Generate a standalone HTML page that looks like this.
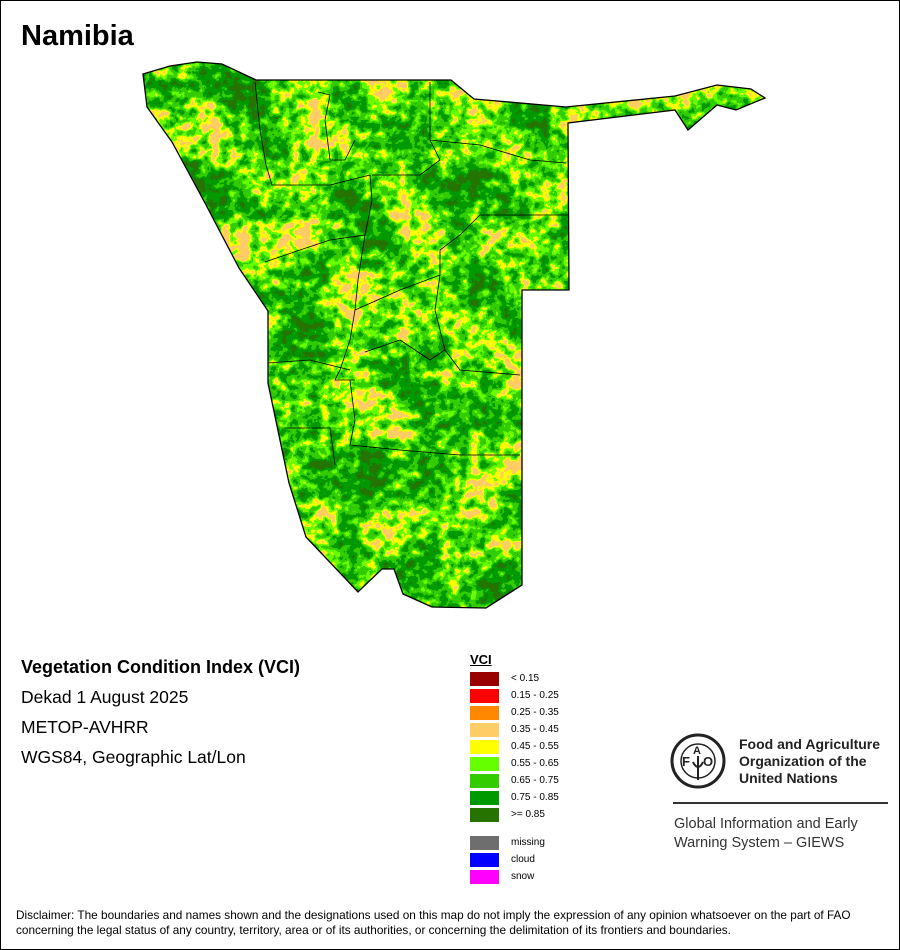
<!DOCTYPE html>
<html><head><meta charset="utf-8"><style>
html,body{margin:0;padding:0;background:#fff;}
#wrap{position:relative;width:898px;height:948px;border:1px solid #000;overflow:hidden;font-family:"Liberation Sans",sans-serif;color:#000;}
.t{position:absolute;white-space:nowrap;}
.sw{position:absolute;left:469px;width:29px;height:14px;}
.lb{position:absolute;left:510px;font-size:10px;}
</style></head><body><div id="wrap">
<div class="t" style="left:20px;top:19px;font-size:29px;font-weight:bold;">Namibia</div>
<svg width="900" height="950" style="position:absolute;left:-1px;top:-1px;">
<defs>
<filter id="f" x="0" y="0" width="100%" height="100%" color-interpolation-filters="sRGB">
<feTurbulence type="fractalNoise" baseFrequency="0.018" numOctaves="2" seed="5"/>
<feColorMatrix type="matrix" values="1 0 0 0 0  1 0 0 0 0  1 0 0 0 0  0 0 0 0 1" result="lo"/>
<feTurbulence type="fractalNoise" baseFrequency="0.1" numOctaves="3" seed="11"/>
<feColorMatrix type="matrix" values="1 0 0 0 0  1 0 0 0 0  1 0 0 0 0  0 0 0 0 1" result="hi"/>
<feComposite in="lo" in2="hi" operator="arithmetic" k1="0" k2="0.55" k3="0.5" k4="-0.03" result="m"/>
<feColorMatrix in="m" type="matrix" values="2.0 0 0 0 -0.42  2.0 0 0 0 -0.42  2.0 0 0 0 -0.42  0 0 0 0 1"/>
<feComponentTransfer>
<feFuncR type="discrete" tableValues="0.149 0.149 0.149 0.149 0.149 0.149 0.149 0 0 0 0 0 0.2 0.2 0.2 0.2 0.4 0.4 0.4 1 1 1 1 1 1 1"/>
<feFuncG type="discrete" tableValues="0.451 0.451 0.451 0.451 0.451 0.451 0.451 0.6 0.6 0.6 0.6 0.6 0.8 0.8 0.8 0.8 1 1 1 1 1 1 0.8 0.8 0.8 0.8"/>
<feFuncB type="discrete" tableValues="0 0 0 0 0 0 0 0 0 0 0 0 0 0 0 0 0 0 0 0 0 0 0.4 0.4 0.4 0.4"/>
<feFuncA type="linear" slope="0" intercept="1"/>
</feComponentTransfer>
</filter>
<clipPath id="c"><path id="np" d="M143,74 L170,66 197,62 222,64 256,80 451,80 474,99 566,107 675,96 717,85 751,89 765,98 736,110 717,105 688,130 675,110 568,123 569,290 522,290 522,585 486,608 432,607 403,594 394,569 382,569 358,592 306,537 289,483 268,383 268,311 239,268 205,203 172,142 147,107 Z"/></clipPath>
</defs>
<g clip-path="url(#c)"><rect x="130" y="55" width="650" height="560" filter="url(#f)"/></g>
<use href="#np" fill="none" stroke="#000" stroke-width="1.3"/>
<g fill="none" stroke="#000" stroke-width="0.8">
<path d="M255,82 L260,130 266,165 272,185 330,185 370,175 372,200 365,235"/>
<path d="M318,92 L330,95 325,120 330,160 345,160 355,140"/>
<path d="M430,82 L430,140 480,145 530,160 566,163"/>
<path d="M372,175 L420,175 440,160 430,140"/>
<path d="M365,235 L330,240 300,250 265,262"/>
<path d="M365,235 L358,280 355,310 350,340 340,370 335,380 355,380"/>
<path d="M355,310 L400,290 440,275 440,250 460,235 480,215 568,215"/>
<path d="M440,275 L435,310 445,350 430,360 400,340 365,352"/>
<path d="M268,363 L310,360 350,370"/>
<path d="M350,380 L355,420 350,445 400,450 460,455 520,455"/>
<path d="M285,428 L330,428 335,465"/>
<path d="M445,350 L460,370 520,375"/>
</g>
</svg>
<div class="t" style="left:20px;top:656px;font-size:18px;font-weight:bold;">Vegetation Condition Index (VCI)</div>
<div class="t" style="left:20px;top:686px;font-size:17.5px;">Dekad 1 August 2025</div>
<div class="t" style="left:20px;top:716px;font-size:17.5px;">METOP-AVHRR</div>
<div class="t" style="left:20px;top:746px;font-size:17.5px;">WGS84, Geographic Lat/Lon</div>
<div class="t" style="left:469px;top:651px;font-size:13px;font-weight:bold;text-decoration:underline;">VCI</div>
<div class="sw" style="top:671px;background:#990000"></div><div class="lb" style="top:672px">&lt; 0.15</div>
<div class="sw" style="top:688px;background:#ff0000"></div><div class="lb" style="top:689px">0.15 - 0.25</div>
<div class="sw" style="top:705px;background:#ff8800"></div><div class="lb" style="top:706px">0.25 - 0.35</div>
<div class="sw" style="top:722px;background:#ffcc66"></div><div class="lb" style="top:723px">0.35 - 0.45</div>
<div class="sw" style="top:739px;background:#ffff00"></div><div class="lb" style="top:740px">0.45 - 0.55</div>
<div class="sw" style="top:756px;background:#66ff00"></div><div class="lb" style="top:757px">0.55 - 0.65</div>
<div class="sw" style="top:773px;background:#33cc00"></div><div class="lb" style="top:774px">0.65 - 0.75</div>
<div class="sw" style="top:790px;background:#009900"></div><div class="lb" style="top:791px">0.75 - 0.85</div>
<div class="sw" style="top:807px;background:#267300"></div><div class="lb" style="top:808px">&gt;= 0.85</div>
<div class="sw" style="top:835px;background:#6e6e6e"></div><div class="lb" style="top:836px">missing</div>
<div class="sw" style="top:852px;background:#0000ff"></div><div class="lb" style="top:853px">cloud</div>
<div class="sw" style="top:869px;background:#ff00ff"></div><div class="lb" style="top:870px">snow</div>
<svg width="60" height="60" style="position:absolute;left:668px;top:731px;">
<circle cx="29" cy="29" r="26" fill="none" stroke="#222" stroke-width="3"/>
<circle cx="29" cy="29" r="17" fill="none" stroke="#222" stroke-width="1.5"/>
<text x="13" y="34" font-size="13" font-weight="bold" font-family="Liberation Sans" fill="#222">F</text>
<text x="24" y="22" font-size="11" font-weight="bold" font-family="Liberation Sans" fill="#222">A</text>
<text x="34" y="34" font-size="13" font-weight="bold" font-family="Liberation Sans" fill="#222">O</text>
<path d="M29,24 L29,48 M24,30 Q29,40 34,30" stroke="#222" stroke-width="2" fill="none"/>
</svg>
<div class="t" style="left:738px;top:735px;font-size:14px;font-weight:bold;line-height:17px;color:#222;">Food and Agriculture<br>Organization of the<br>United Nations</div>
<div style="position:absolute;left:672px;top:801px;width:215px;height:2px;background:#333;"></div>
<div class="t" style="left:673px;top:814px;font-size:14.5px;line-height:19px;color:#333;">Global Information and Early<br>Warning System – GIEWS</div>
<div class="t" style="left:15px;top:907px;font-size:11.8px;line-height:15px;">Disclaimer: The boundaries and names shown and the designations used on this map do not imply the expression of any opinion whatsoever on the part of FAO<br>concerning the legal status of any country, territory, area or of its authorities, or concerning the delimitation of its frontiers and boundaries.</div>
</div></body></html>
